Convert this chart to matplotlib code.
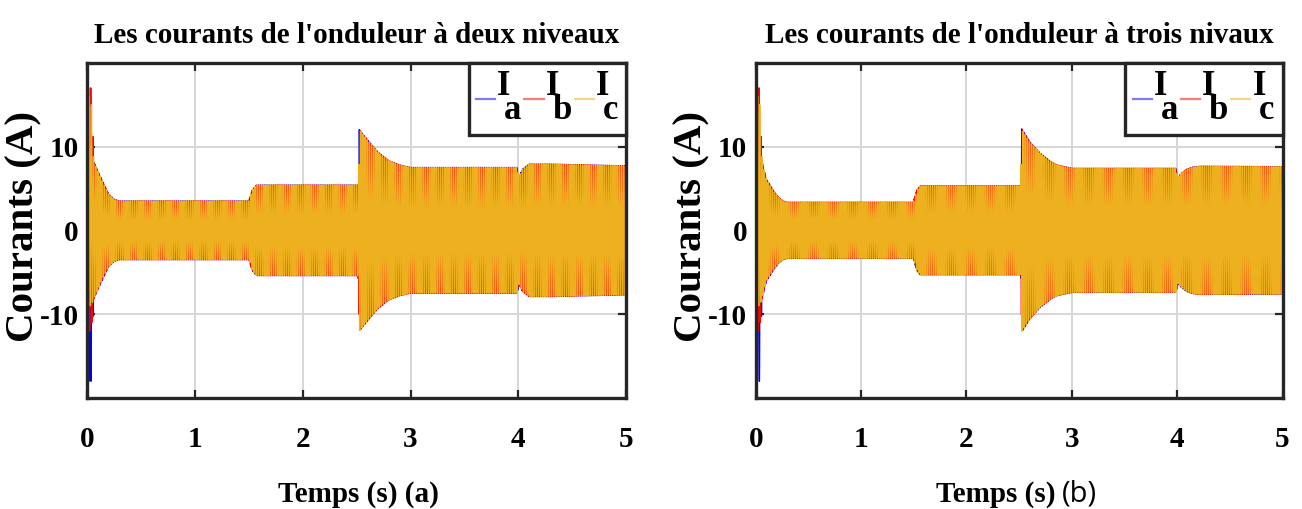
import numpy as np
import matplotlib
matplotlib.use('Agg')
import matplotlib.pyplot as plt
from matplotlib.lines import Line2D

plt.rcParams['font.family'] = 'Liberation Serif'
plt.rcParams['font.weight'] = 'bold'
plt.rcParams['axes.unicode_minus'] = False

# ---- data ----
f_grid = 50.0                      # Hz
t_end = 5.0
titles = ["Les courants de l'onduleur à deux niveaux",
          "Les courants de l'onduleur à trois nivaux"]
panel_tags = ['(a)', '(b)']
labels = ['I\n\u2009a', 'I\n\u2009b', 'I\n\u2009c']
colors = ['#0000ff', '#ff0000', '#edb120']
legend_colors = ['#7b7bff', '#ff7b7b', '#f6d68a']
phases = [0.0, -2 * np.pi / 3, 2 * np.pi / 3]

# start-up transient (first cycles), per phase: amplitude and offset
t_start = [0.0, 0.005, 0.035, 0.06]
amp_start = [[0.0, 14.0, 14.0, 8.2],
             [0.0, 14.5, 14.5, 8.2],
             [0.0, 12.5, 12.5, 8.2]]
dc_start = [[0.0, -4.0, -4.0, 0.0],
            [0.0, 2.5, 2.5, 0.0],
            [0.0, 3.5, 3.5, 0.0]]

# amplitude envelope, two-level inverter (a)
t_env_a = [0.06, 0.10, 0.15, 0.20, 0.25, 0.30, 1.50, 1.53, 1.57, 2.515, 2.525,
           2.60, 2.70, 2.80, 2.90, 3.00, 3.99, 4.005, 4.04, 4.10, 4.30, 5.00]
amp_env_a = [8.2, 7.0, 5.6, 4.3, 3.7, 3.5, 3.5, 4.8, 5.4, 5.4, 12.0,
             10.8, 9.3, 8.3, 7.8, 7.5, 7.5, 6.4, 7.3, 7.9, 7.9, 7.7]

# amplitude envelope, three-level inverter (b)
t_env_b = [0.06, 0.10, 0.17, 0.22, 0.26, 0.30, 1.495, 1.53, 1.56, 2.515, 2.525,
           2.60, 2.70, 2.80, 2.86, 2.95, 3.01, 3.99, 4.005, 4.04, 4.09, 4.15, 4.22, 5.00]
amp_env_b = [7.2, 6.1, 4.7, 3.9, 3.5, 3.35, 3.35, 4.8, 5.3, 5.3, 12.1,
             10.6, 9.2, 8.2, 7.8, 7.55, 7.4, 7.4, 6.3, 6.8, 7.3, 7.55, 7.65, 7.6]

envelopes = [(t_env_a, amp_env_a), (t_env_b, amp_env_b)]

t = np.arange(0, t_end, 2e-4)

fig = plt.figure(figsize=(13.02, 5.09), dpi=100)
W, H = 1302.0, 509.0
ax_boxes = [(87.3, 62.7, 626.0, 398.0), (755.7, 62.7, 1282.5, 398.0)]
axes = []
for (x0, y0, x1, y1) in ax_boxes:
    axes.append(fig.add_axes([x0 / W, 1 - y1 / H, (x1 - x0) / W, (y1 - y0) / H]))

spine_col = '#262626'
for k, ax in enumerate(axes):
    t_env, amp_env = envelopes[k]
    for i in range(3):
        tk = np.concatenate([t_start, t_env[1:]])
        ak = np.concatenate([amp_start[i], amp_env[1:]])
        dk = np.concatenate([dc_start[i], np.zeros(len(t_env) - 1)])
        amp = np.interp(t, tk, ak)
        dc = np.interp(t, tk, dk)
        y = amp * np.sin(2 * np.pi * f_grid * t + phases[i]) + dc
        ax.plot(t, y, color=colors[i], lw=1.0)

    ax.set_xlim(0, 5)
    ax.set_ylim(-20, 20)
    ax.set_xticks([0, 1, 2, 3, 4, 5])
    ax.set_yticks([-10, 0, 10])
    ax.grid(True, color='#d6d6d6', lw=1.4)
    ax.set_axisbelow(True)
    ax.tick_params(direction='in', length=6, width=1.6, top=True, right=True,
                   labelsize=21, color=spine_col)
    ax.tick_params(axis='x', pad=20)
    ax.tick_params(axis='y', pad=6)
    for s in ax.spines.values():
        s.set_linewidth(2.4)
        s.set_color(spine_col)

    handles = [Line2D([], [], color=c, lw=1.6) for c in legend_colors]
    leg = ax.legend(handles, labels, loc='upper right', ncol=3, fontsize=25,
                    handlelength=0.55, handletextpad=0.06, columnspacing=0.08,
                    borderpad=0.22, borderaxespad=0, fancybox=False,
                    edgecolor=spine_col, framealpha=1)
    leg.get_frame().set_linewidth(2.4)
    for txt in leg.get_texts():
        txt.set_linespacing(0.64)

    cx = (ax_boxes[k][0] + ax_boxes[k][2]) / 2
    fig.text(cx / W, 1 - 43.3 / H, titles[k], ha='center', va='baseline',
             fontsize=21, fontweight='bold')

# axis labels
fig.text(24 / W, 1 - 226 / H, 'Courants (A)', rotation=90, ha='center',
         va='center', fontsize=29.5, fontweight='bold')
fig.text(692 / W, 1 - 226 / H, 'Courants (A)', rotation=90, ha='center',
         va='center', fontsize=29.5, fontweight='bold')
fig.text(358 / W, 1 - 501.5 / H, 'Temps (s) ' + panel_tags[0], ha='center',
         va='baseline', fontsize=21, fontweight='bold')
fig.text(1056 / W, 1 - 501.5 / H, 'Temps (s)', ha='right', va='baseline',
         fontsize=21, fontweight='bold')
fig.text(1062 / W, 1 - 501.5 / H, panel_tags[1], ha='left', va='baseline',
         fontsize=21, fontweight='normal', family='Open Sans')

fig.savefig('out.png', dpi=100)
